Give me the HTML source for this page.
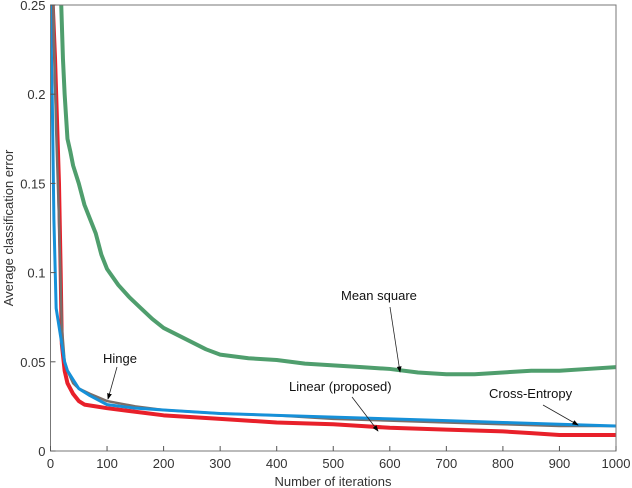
<!DOCTYPE html>
<html><head><meta charset="utf-8"><style>
body{margin:0;background:#fff}
svg{display:block;font-family:"Liberation Sans",sans-serif}
</style></head><body>
<svg id="chart" width="632" height="488" viewBox="0 0 632 488"></svg>
<script>
const xTicks=[0,100,200,300,400,500,600,700,800,900,1000];
const yTicks=[0,0.05,0.1,0.15,0.2,0.25];
const yTickLabels=["0","0.05","0.1","0.15","0.2","0.25"];
const msX=[19,22,25,28,30,35,40,50,60,70,80,90,100,120,140,160,180,200,225,250,275,300,350,400,450,500,550,600,650,700,750,800,850,900,950,1000];
const msY=[0.25,0.22,0.2,0.185,0.175,0.168,0.16,0.15,0.138,0.13,0.122,0.11,0.102,0.093,0.086,0.08,0.074,0.069,0.065,0.061,0.057,0.054,0.052,0.051,0.049,0.048,0.047,0.046,0.044,0.043,0.043,0.044,0.045,0.045,0.046,0.047];
const linX=[4,8,12,15,18,20,25,30,40,50,60,80,100,150,200,250,300,400,500,550,600,700,800,850,900,1000];
const linY=[0.25,0.22,0.18,0.15,0.1,0.06,0.045,0.038,0.032,0.028,0.026,0.025,0.024,0.022,0.02,0.019,0.018,0.016,0.015,0.014,0.013,0.012,0.011,0.01,0.009,0.009];
const hingeX=[5,10,15,20,25,30,40,50,70,100,150,200,300,400,500,600,700,800,900,1000];
const hingeY=[0.25,0.18,0.13,0.07,0.05,0.045,0.038,0.035,0.032,0.028,0.025,0.023,0.021,0.02,0.018,0.017,0.016,0.015,0.014,0.014];
const ceX=[0,3,6,10,15,20,25,30,40,50,70,100,150,200,250,300,400,500,600,700,800,900,1000];
const ceY=[0.25,0.2,0.13,0.08,0.07,0.06,0.05,0.045,0.04,0.035,0.031,0.026,0.024,0.023,0.022,0.021,0.02,0.019,0.018,0.017,0.016,0.015,0.014];
const svg=document.getElementById('chart');
const NS='http://www.w3.org/2000/svg';
const X0=50.5,X1=616,Y0=451,Y1=5;
const sx=v=>X0+(X1-X0)*v/1000;
const sy=v=>Y0-(Y0-Y1)*v/0.25;
function mk(t,a){const e=document.createElementNS(NS,t);for(const k in a)e.setAttribute(k,a[k]);svg.appendChild(e);return e;}
const defs=mk('defs',{});
defs.innerHTML='<marker id="ah" markerWidth="8" markerHeight="8" refX="7" refY="4" orient="auto"><path d="M0,1 L8,4 L0,7z" fill="#000"/></marker>';
mk('clipPath',{id:'cp'}).innerHTML='<rect x="'+X0+'" y="'+Y1+'" width="'+(X1-X0)+'" height="'+(Y0-Y1)+'"/>';
function series(xs,ys,color,w,name){
  const p=mk('polyline',{points:xs.map((x,i)=>sx(x)+','+sy(ys[i])).join(' '),fill:'none',stroke:color,'stroke-width':w,'clip-path':'url(#cp)','stroke-linejoin':'round'});
  
  
}
series(msX,msY,'#4f9e6d',4,'mean-square-line');
series(linX,linY,'#e8202a',4,'linear-line');
series(hingeX,hingeY,'#7a6e69',2.5,'hinge-line');
series(ceX,ceY,'#1690d8',3,'cross-entropy-line');
const box=mk('rect',{x:X0,y:Y1,width:X1-X0,height:Y0-Y1,fill:'none',stroke:'#777','stroke-width':1});

xTicks.forEach(v=>{
  mk('line',{x1:sx(v),x2:sx(v),y1:Y0,y2:Y0-5,stroke:'#555'});
  const t=mk('text',{x:sx(v),y:Y0+17,'text-anchor':'middle','font-size':13,fill:'#333'});t.textContent=v;
  
});
yTicks.forEach((v,i)=>{
  mk('line',{x1:X0,x2:X0+5,y1:sy(v),y2:sy(v),stroke:'#555'});
  const t=mk('text',{x:X0-5,y:sy(v)+5,'text-anchor':'end','font-size':13,fill:'#333'});t.textContent=yTickLabels[i];
  
});
const xt=mk('text',{x:333,y:486,'text-anchor':'middle','font-size':13,fill:'#333'});xt.textContent='Number of iterations';

const yt=mk('text',{x:13,y:228,'text-anchor':'middle','font-size':13,fill:'#333',transform:'rotate(-90 13 228)'});yt.textContent='Average classification error';

function ann(txt,tx,ty,x1,y1,x2,y2,name){
  const t=mk('text',{x:tx,y:ty,'font-size':13,fill:'#111'});t.textContent=txt;
  
  mk('line',{x1:x1,y1:y1,x2:x2,y2:y2,stroke:'#222','stroke-width':0.8,'marker-end':'url(#ah)'});
}
ann('Mean square',341,300,390,307,400,372,'mean-square-label');
ann('Hinge',103,363,117,367,108,399,'hinge-label');
ann('Linear (proposed)',289,391,352,397,378,431,'linear-label');
ann('Cross-Entropy',489,398,543,405,578,425,'cross-entropy-label');
</script>
</body></html>
